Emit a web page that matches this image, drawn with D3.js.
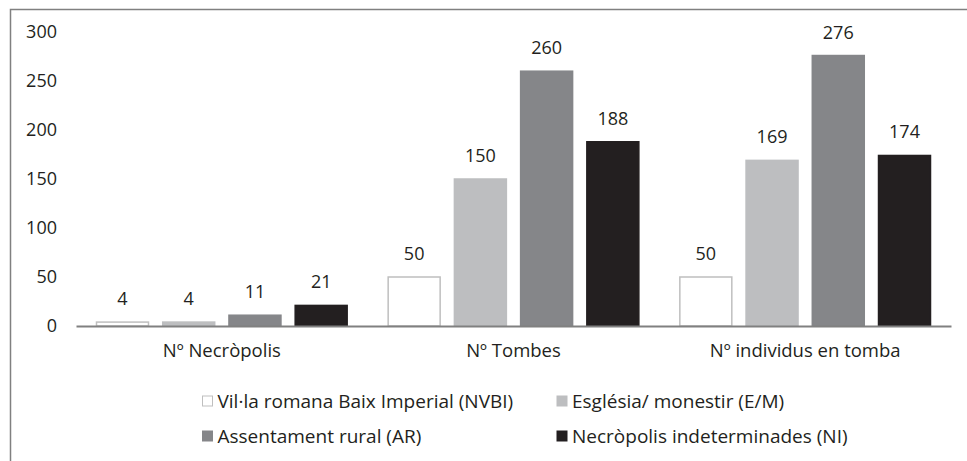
<!DOCTYPE html>
<html>
<head>
<meta charset="utf-8">
<script src="https://cdn.jsdelivr.net/npm/d3@7"></script>
<style>
  body { margin: 0; background: #fff; }
  text { font-family: "Open Sans", sans-serif; fill: #231f20; }
</style>
</head>
<body>
<div id="chart"></div>
<script>
// data
var categories = ["Nº Necròpolis", "Nº Tombes", "Nº individus en tomba"];
var seriesNames = ["Vil·la romana Baix Imperial (NVBI)", "Església/ monestir (E/M)",
                   "Assentament rural (AR)", "Necròpolis indeterminades (NI)"];
var nvbi = [4, 50, 50];
var em = [4, 150, 169];
var ar = [11, 260, 276];
var ni = [21, 188, 174];
var yTicks = [0, 50, 100, 150, 200, 250, 300];

var seriesValues = [nvbi, em, ar, ni];
var colors = ["#ffffff", "#bdbec0", "#858689", "#231f20"];
var strokes = ["#bfbfbf", "#bdbec0", "#858689", "#231f20"];

var svgWidth = 967;
var svgHeight = 461;

var svg = d3.select("#chart")
  .append("svg")
  .attr("width", svgWidth)
  .attr("height", svgHeight);

// frame (only top and left edges visible)
svg.append("path")
  .attr("d", "M10.5,461 V9.5 H967")
  .attr("fill", "none")
  .attr("stroke", "#808080")
  .attr("stroke-width", 1.5);

var xScale = d3.scaleBand()
  .domain(categories)
  .range([76, 951]);

var innerScale = d3.scaleBand()
  .domain(d3.range(seriesNames.length))
  .range([20, xScale.bandwidth() - 20])
  .paddingInner(0.2);

var yScale = d3.scaleLinear()
  .domain([0, 300])
  .range([326, 32]);

// y tick labels (no axis line)
var leftAxis = d3.axisLeft(yScale).tickValues(yTicks).tickSize(0).tickPadding(0);
var yAxisG = svg.append("g")
  .attr("transform", "translate(57,0)")
  .call(leftAxis);
yAxisG.select(".domain").remove();
yAxisG.selectAll("text")
  .style("font-family", "'Open Sans', sans-serif")
  .style("font-size", "18px")
  .attr("fill", "#231f20");

// bars
var rows = [];
categories.forEach(function(c, ci) {
  seriesValues.forEach(function(vals, si) {
    rows.push({cat: c, s: si, v: vals[ci]});
  });
});

var barG = svg.append("g");
barG.selectAll("rect")
  .data(rows)
  .enter()
  .append("rect")
  .attr("x", d => xScale(d.cat) + innerScale(d.s) + 0.5)
  .attr("y", d => yScale(d.v))
  .attr("width", innerScale.bandwidth() - 1)
  .attr("height", d => yScale(0) - yScale(d.v))
  .attr("fill", d => colors[d.s])
  .attr("stroke", d => strokes[d.s])
  .attr("stroke-width", 1.5);

barG.selectAll(".val")
  .data(rows)
  .enter()
  .append("text")
  .attr("class", "val")
  .attr("x", d => xScale(d.cat) + innerScale(d.s) + innerScale.bandwidth() / 2)
  .attr("y", d => yScale(d.v) - 17)
  .attr("text-anchor", "middle")
  .style("font-size", "18px")
  .text(d => d.v);

// x axis
var bottomAxis = d3.axisBottom(xScale).tickSize(0).tickPadding(18);
var xAxisG = svg.append("g")
  .attr("transform", "translate(0,326)")
  .call(bottomAxis);
xAxisG.select(".domain")
  .attr("stroke", "#808080")
  .attr("stroke-width", 2);
xAxisG.selectAll("text")
  .style("font-family", "'Open Sans', sans-serif")
  .style("font-size", "18.5px")
  .attr("fill", "#231f20");

// legend
var legendPos = [[207.5, 401], [562, 401], [207.5, 436], [562, 436]];
var legend = svg.append("g");
var items = legend.selectAll("g")
  .data(seriesNames)
  .enter()
  .append("g")
  .attr("transform", (d, i) => `translate(${legendPos[i][0]}, ${legendPos[i][1]})`);
items.append("rect")
  .attr("x", -5)
  .attr("y", -5)
  .attr("width", 10)
  .attr("height", 10)
  .attr("fill", (d, i) => colors[i])
  .attr("stroke", (d, i) => strokes[i])
  .attr("stroke-width", 1);
items.append("text")
  .attr("x", 10)
  .attr("y", 7)
  .style("font-size", "19px")
  .text(d => d);
</script>
</body>
</html>
